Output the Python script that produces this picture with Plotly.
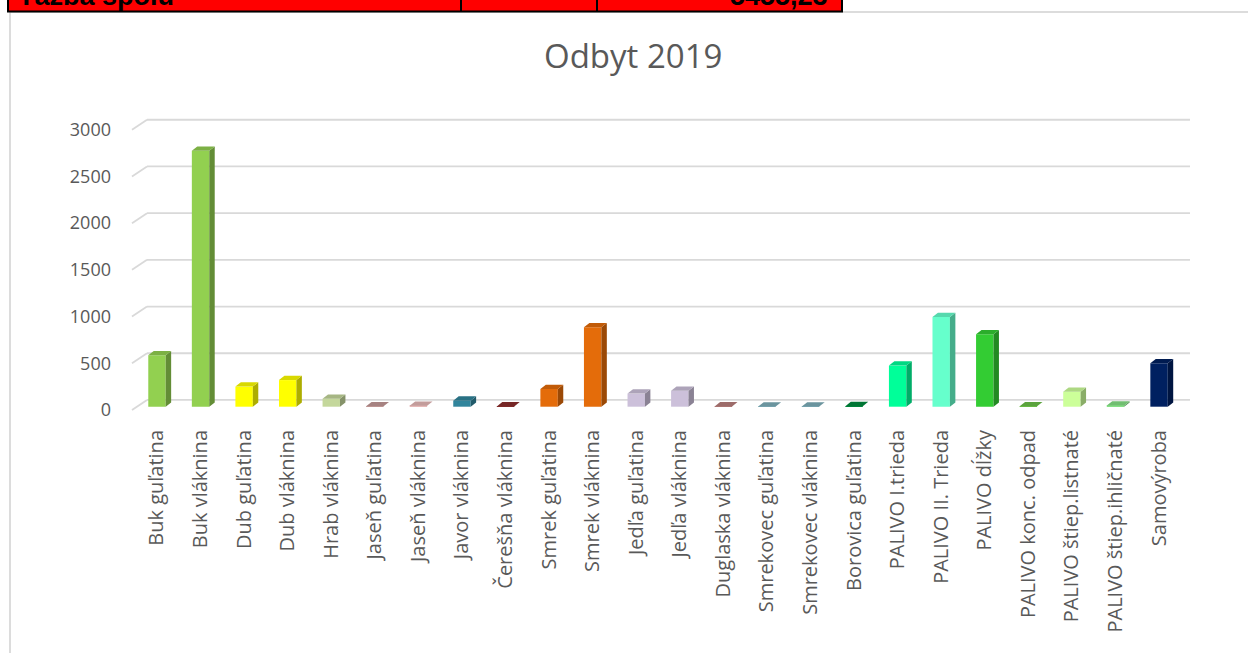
import plotly.graph_objects as go

# ---------------- data ----------------
categories = [
    "Buk guľatina", "Buk vláknina", "Dub guľatina", "Dub vláknina",
    "Hrab vláknina", "Jaseň guľatina", "Jaseň vláknina", "Javor vláknina",
    "Čerešňa vláknina", "Smrek guľatina", "Smrek vláknina", "Jedľa guľatina",
    "Jedľa vláknina", "Duglaska vláknina", "Smrekovec guľatina",
    "Smrekovec vláknina", "Borovica guľatina", "PALIVO I.trieda",
    "PALIVO II. Trieda", "PALIVO dĺžky", "PALIVO konc. odpad",
    "PALIVO štiep.listnaté", "PALIVO štiep.ihličnaté", "Samovýroba",
]
values = [
    550, 2740, 215, 285, 85, 4, 10, 65, 3, 190, 850, 140,
    170, 3, 2, 2, 6, 440, 960, 775, 5, 160, 12, 465,
]
bar_colors = [
    "#92D050", "#92D050", "#FFFF00", "#FFFF00", "#C4D79B", "#C49A98",
    "#E6B8B7", "#31859C", "#8B2F2D", "#E46C0A", "#E46C0A", "#CCC0DA",
    "#CCC0DA", "#B87E7C", "#7FAFBA", "#7FAFBA", "#008A3E", "#00FF99",
    "#66FFCC", "#33CC33", "#6CC048", "#CCFF99", "#86E086", "#002060",
]
y_tick_values = [0, 500, 1000, 1500, 2000, 2500, 3000]
chart_title = "Odbyt 2019"
table_label = "Ťažba spolu"
table_value = "5455,23"

# ---------------- geometry / style ----------------
W, H = 1248, 653
ML, MT = 120, 100
PW, PH = 1080, 315
MR, MB = W - ML - PW, H - MT - PH
BAR_W = 0.4          # front face width (category units)
DX, DY = 0.125, 46   # 3D depth offset of bar (x units, y units)
FRONT_DY = -35       # floor front edge offset (y units)
WALL_DY = 72         # back wall offset (y units)
WALL_X0, WALL_X1, DIAG_X0 = -0.23, 23.71, -0.574
GRID = "#D9D9D9"
TXT = "#595959"
FONT = "Open Sans"


def shade(hexcol, f):
    h = hexcol.lstrip("#")
    r, g, b = (int(h[i:i + 2], 16) for i in (0, 2, 4))
    return "rgb(%d,%d,%d)" % (int(r * f), int(g * f), int(b * f))


def px_x(p):
    return (p - ML) / PW


def px_y(p):
    return (MT + PH - p) / PH


fig = go.Figure()

# front faces
xs = list(range(len(categories)))
fig.add_trace(go.Bar(
    x=xs, y=values, width=BAR_W,
    marker=dict(color=bar_colors, line=dict(width=0)),
    hoverinfo="skip", showlegend=False,
))

# side and top faces
for i, (v, c) in enumerate(zip(values, bar_colors)):
    xr = i + BAR_W / 2
    xl = i - BAR_W / 2
    fig.add_trace(go.Scatter(
        x=[xr, xr + DX, xr + DX, xr, xr], y=[0, DY, v + DY, v, 0],
        fill="toself", fillcolor=shade(c, 0.68), mode="lines",
        line=dict(width=0, color=shade(c, 0.68)),
        hoverinfo="skip", showlegend=False,
    ))
    fig.add_trace(go.Scatter(
        x=[xl, xr, xr + DX, xl + DX, xl], y=[v, v, v + DY, v + DY, v],
        fill="toself", fillcolor=shade(c, 0.85), mode="lines",
        line=dict(width=0, color=shade(c, 0.85)),
        hoverinfo="skip", showlegend=False,
    ))

shapes = []
# gridlines on back wall with side-wall diagonal
for t in y_tick_values:
    shapes.append(dict(type="line", xref="x", yref="y", layer="below",
                       x0=DIAG_X0, y0=t + FRONT_DY, x1=WALL_X0, y1=t + WALL_DY,
                       line=dict(color=GRID, width=1.8)))
    shapes.append(dict(type="line", xref="x", yref="y", layer="below",
                       x0=WALL_X0, y0=t + WALL_DY, x1=WALL_X1, y1=t + WALL_DY,
                       line=dict(color=GRID, width=1.8)))

# chart frame
shapes.append(dict(type="line", xref="paper", yref="paper",
                   x0=px_x(10), y0=px_y(12), x1=px_x(10), y1=px_y(670),
                   line=dict(color="#D0D0D0", width=1.5)))
shapes.append(dict(type="line", xref="paper", yref="paper",
                   x0=px_x(10), y0=px_y(12), x1=px_x(1260), y1=px_y(12),
                   line=dict(color="#D0D0D0", width=1.5)))
# red table row at top
shapes.append(dict(type="rect", xref="paper", yref="paper",
                   x0=px_x(8), y0=px_y(11.5), x1=px_x(842), y1=px_y(-5),
                   fillcolor="#FF0000", line=dict(color="#000000", width=2)))
for xv in (461, 597):
    shapes.append(dict(type="line", xref="paper", yref="paper",
                       x0=px_x(xv), y0=px_y(11.5), x1=px_x(xv), y1=px_y(-5),
                       line=dict(color="#000000", width=2)))

annotations = [
    dict(text=chart_title, xref="paper", yref="paper",
         x=px_x(633), y=px_y(55), xanchor="center", yanchor="middle",
         showarrow=False, font=dict(family=FONT, size=33, color=TXT)),
    dict(text="<b>" + table_label + "</b>", xref="paper", yref="paper",
         x=px_x(16), y=px_y(13), xanchor="left", yanchor="bottom",
         showarrow=False, font=dict(family="Liberation Sans", size=27, color="#000000")),
    dict(text="<b>" + table_value + "</b>", xref="paper", yref="paper",
         x=px_x(830), y=px_y(13), xanchor="right", yanchor="bottom",
         showarrow=False, font=dict(family="Liberation Sans", size=27, color="#000000")),
]

fig.update_layout(
    width=W, height=H,
    margin=dict(l=ML, r=MR, t=MT, b=MB, pad=0),
    paper_bgcolor="#FFFFFF", plot_bgcolor="rgba(0,0,0,0)",
    barmode="overlay", showlegend=False,
    shapes=shapes, annotations=annotations,
    xaxis=dict(
        range=[-0.849, 23.94], tickmode="array", tickvals=xs, ticktext=categories,
        tickangle=-90, showgrid=False, zeroline=False, showline=False,
        ticks="", ticklabelstandoff=10,
        tickfont=dict(family=FONT, size=20, color=TXT),
    ),
    yaxis=dict(
        range=[-88.9, 3283.7], tickmode="array",
        tickvals=[t + FRONT_DY for t in y_tick_values],
        ticktext=[str(t) for t in y_tick_values],
        showgrid=False, zeroline=False, showline=False, ticks="",
        ticklabelstandoff=8,
        tickfont=dict(family=FONT, size=18, color=TXT),
    ),
)

fig.write_html(
    "out.html",
    config={"displayModeBar": False},
    post_script="document.body.style.margin='0';document.body.style.overflow='hidden';",
)
